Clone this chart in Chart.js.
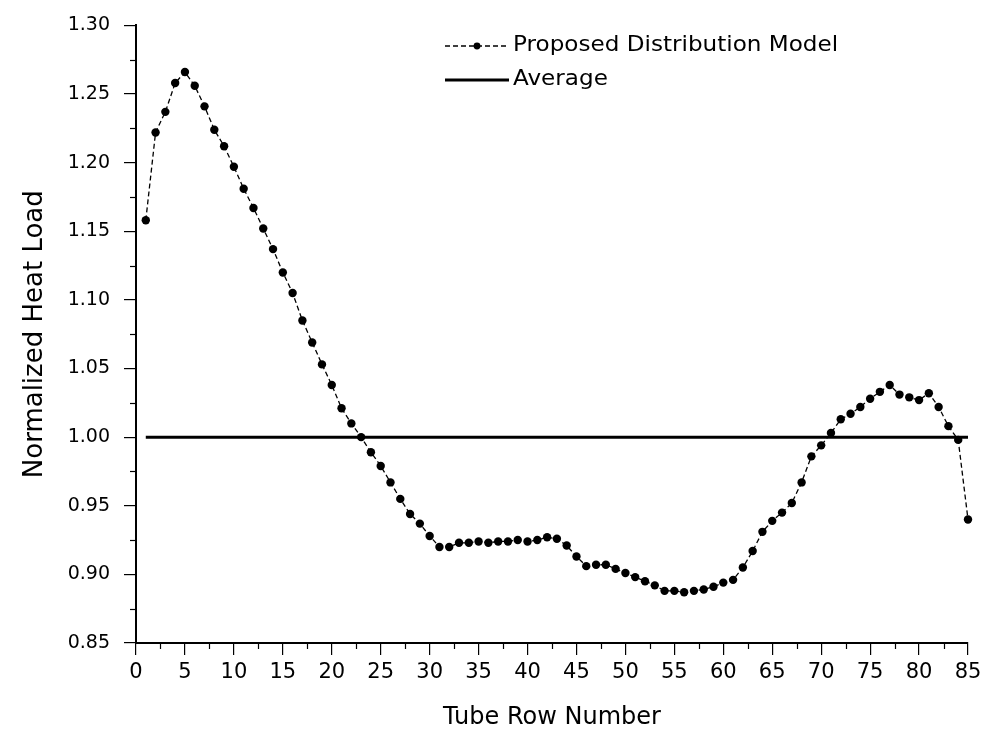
<!DOCTYPE html>
<html>
<head>
<meta charset="utf-8">
<script src="https://cdn.jsdelivr.net/npm/chart.js@4/dist/chart.umd.min.js"></script>
<style>
  html, body { margin: 0; padding: 0; background: #fff; }
  #wrap { width: 989px; height: 734px; position: relative; }
</style>
</head>
<body>
<div id="wrap"><canvas id="c" width="989" height="734"></canvas></div>
<script>
// ---- data ----
const tubeRows = [1,2,3,4,5,6,7,8,9,10,11,12,13,14,15,16,17,18,19,20,
  21,22,23,24,25,26,27,28,29,30,31,32,33,34,35,36,37,38,39,40,
  41,42,43,44,45,46,47,48,49,50,51,52,53,54,55,56,57,58,59,60,
  61,62,63,64,65,66,67,68,69,70,71,72,73,74,75,76,77,78,79,80,
  81,82,83,84,85];
const heatLoad = [1.158,1.222,1.237,1.258,1.266,1.256,1.241,1.224,1.212,1.197,
  1.181,1.167,1.152,1.137,1.120,1.105,1.085,1.069,1.053,1.038,
  1.021,1.010,1.000,0.989,0.979,0.967,0.955,0.944,0.937,0.928,
  0.920,0.920,0.923,0.923,0.924,0.923,0.924,0.924,0.925,0.924,
  0.925,0.927,0.926,0.921,0.913,0.906,0.907,0.907,0.904,0.901,
  0.898,0.895,0.892,0.888,0.888,0.887,0.888,0.889,0.891,0.894,
  0.896,0.905,0.917,0.931,0.939,0.945,0.952,0.967,0.986,0.994,
  1.003,1.013,1.017,1.022,1.028,1.033,1.038,1.031,1.029,1.027,
  1.032,1.022,1.008,0.998,0.940];
const averageRows = [1, 85];
const averageValues = [1.00, 1.00];
const seriesNames = ["Proposed Distribution Model", "Average"];
const xTitle = "Tube Row Number";
const yTitle = "Normalized Heat Load";
const xMin = 0, xMax = 85, xStep = 5, xMinorStep = 2.5;
const yMin = 0.85, yMax = 1.30, yStep = 0.05, yMinorStep = 0.025;

const FONT = "'DejaVu Sans', sans-serif";

const modelPts = tubeRows.map((r, i) => ({ x: r, y: heatLoad[i] }));
const avgPts = averageRows.map((r, i) => ({ x: r, y: averageValues[i] }));

// minor ticks
const minorTicks = {
  id: 'minorTicks',
  afterDraw(chart) {
    const ctx = chart.ctx;
    const xs = chart.scales.x, ys = chart.scales.y;
    ctx.save();
    ctx.strokeStyle = '#000';
    ctx.lineWidth = 1.2;
    for (let v = xMin + xMinorStep; v < xMax; v += xStep) {
      const px = Math.round(xs.getPixelForValue(v)) + 0.5;
      ctx.beginPath();
      ctx.moveTo(px, xs.top);
      ctx.lineTo(px, xs.top + 6);
      ctx.stroke();
    }
    for (let v = yMin + yMinorStep; v < yMax; v += yStep) {
      const py = Math.round(ys.getPixelForValue(v)) + 0.5;
      ctx.beginPath();
      ctx.moveTo(ys.right, py);
      ctx.lineTo(ys.right - 6, py);
      ctx.stroke();
    }
    ctx.restore();
  }
};

// legend inside the plot
const insideLegend = {
  id: 'insideLegend',
  afterDraw(chart) {
    const ctx = chart.ctx;
    const x0 = 445, x1 = 509, tx = 513;
    const rows = [46, 80];
    ctx.save();
    chart.data.datasets.forEach((ds, i) => {
      const y = rows[i];
      ctx.strokeStyle = ds.borderColor;
      ctx.lineWidth = ds.borderWidth;
      ctx.setLineDash(ds.borderDash || []);
      ctx.beginPath();
      ctx.moveTo(x0, y);
      ctx.lineTo(x1, y);
      ctx.stroke();
      ctx.setLineDash([]);
      if (ds.pointRadius > 0) {
        ctx.fillStyle = ds.pointBackgroundColor;
        ctx.beginPath();
        ctx.arc((x0 + x1) / 2, y, 3.4, 0, Math.PI * 2);
        ctx.fill();
      }
      ctx.fillStyle = '#000';
      ctx.font = "21px " + FONT;
      ctx.textBaseline = 'middle';
      ctx.save();
      ctx.translate(tx, y);
      ctx.scale(1.1, 1);
      ctx.fillText(ds.label, 0, 0);
      ctx.restore();
    });
    ctx.restore();
  }
};

new Chart(document.getElementById('c'), {
  type: 'line',
  data: {
    datasets: [
      {
        label: seriesNames[0],
        data: modelPts,
        borderColor: '#000',
        borderWidth: 1.3,
        borderDash: [5, 3],
        pointRadius: 4.2,
        pointBackgroundColor: '#000',
        pointBorderColor: '#000',
        pointBorderWidth: 0,
        tension: 0,
        fill: false
      },
      {
        label: seriesNames[1],
        data: avgPts,
        borderColor: '#000',
        borderWidth: 3,
        pointRadius: 0,
        tension: 0,
        fill: false
      }
    ]
  },
  options: {
    responsive: false,
    animation: false,
    devicePixelRatio: 1,
    clip: false,
    layout: { padding: { top: 25, right: 21, left: 0, bottom: 0 } },
    plugins: {
      legend: { display: false },
      tooltip: { enabled: false }
    },
    scales: {
      x: {
        type: 'linear',
        min: xMin, max: xMax,
        ticks: {
          stepSize: xStep,
          color: '#000',
          font: { family: FONT, size: 21 },
          padding: 5,
          maxRotation: 0,
          autoSkip: false
        },
        grid: { drawOnChartArea: false, color: '#000', tickLength: 12, lineWidth: 1.2 },
        border: { color: '#000', width: 2 },
        title: {
          display: true, text: xTitle, color: '#000',
          font: { family: FONT, size: 24 },
          padding: { top: 0, bottom: 2 }
        },
        afterFit(s) { s.height = 91; }
      },
      y: {
        type: 'linear',
        min: yMin, max: yMax,
        ticks: {
          stepSize: yStep,
          color: '#000',
          font: { family: FONT, size: 19 },
          padding: 14,
          callback: v => v.toFixed(2)
        },
        grid: { drawOnChartArea: false, color: '#000', tickLength: 12, lineWidth: 1.2 },
        border: { color: '#000', width: 2 },
        title: {
          display: true, text: yTitle, color: '#000',
          font: { family: FONT, size: 26 },
          padding: { top: 20, bottom: 0 }
        },
        afterFit(s) { s.width = 136; }
      }
    }
  },
  plugins: [minorTicks, insideLegend]
});
</script>
</body>
</html>
